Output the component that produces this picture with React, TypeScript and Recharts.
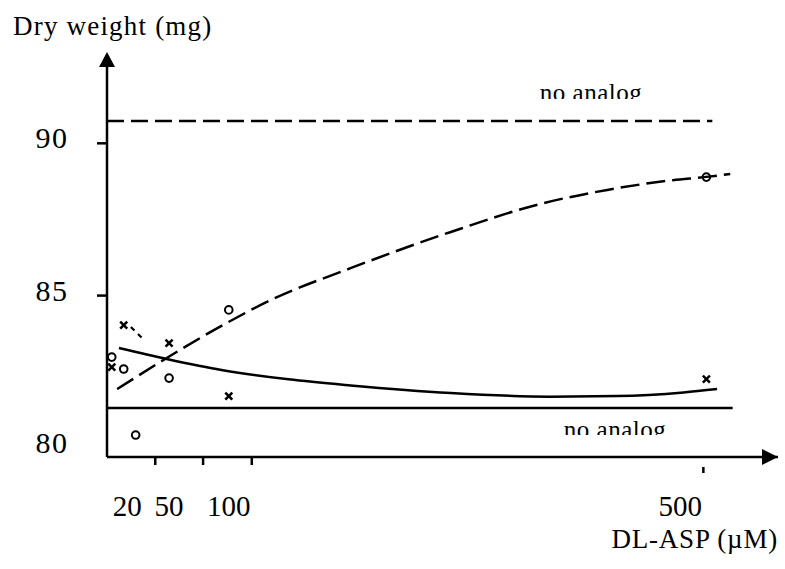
import React from 'react';
import { ComposedChart, Line, Scatter, XAxis, YAxis, ReferenceDot } from 'recharts';

// axis ticks
const xTicks = [20, 50, 100, 500];
const yTicks = [80, 85, 90];

// fitted curves (DL-ASP in µM, dry weight in mg)
const dashedCurveX = [6.5, 48, 95, 135, 202, 286, 361, 417, 472, 498, 520];
const dashedCurveY = [81.93, 82.95, 84.03, 84.85, 85.9, 87.09, 88.01, 88.47, 88.79, 88.89, 88.99];
const solidCurveX = [8, 48, 95, 150, 202, 286, 369, 425, 481, 509];
const solidCurveY = [83.28, 82.92, 82.55, 82.25, 82.05, 81.8, 81.68, 81.7, 81.82, 81.93];

// measured points
const circleX = [2, 12, 22, 50, 100, 500];
const circleY = [82.98, 82.59, 80.42, 82.29, 84.53, 88.89];
const crossX = [2, 12, 50, 100, 500];
const crossY = [82.65, 84.03, 83.44, 81.7, 82.26];

// "no analog" levels
const topAnalogX = [-2, 505];
const topAnalogLevel = 90.73;
const bottomAnalogX = [-2, 522];
const bottomAnalogLevel = 81.31;

// short broken stroke next to the first cross
const fragmentX = [18, 27.5];
const fragmentY = [83.97, 83.6];

const X_DOMAIN: [number, number] = [-2, 560];
const Y_DOMAIN: [number, number] = [79.7, 92.9];

const zip = (xs: number[], ys: number[]) => xs.map((x, i) => ({ x, y: ys[i] }));
const flat = (xs: number[], level: number) => xs.map((x) => ({ x, y: level }));

const dashedCurve = zip(dashedCurveX, dashedCurveY);
const solidCurve = zip(solidCurveX, solidCurveY);
const circles = zip(circleX, circleY);
const crosses = zip(crossX, crossY);
const topAnalog = flat(topAnalogX, topAnalogLevel);
const bottomAnalog = flat(bottomAnalogX, bottomAnalogLevel);
const fragment = zip(fragmentX, fragmentY);

const FONT = '"Liberation Serif", "Times New Roman", serif';

// the printed figure has its x tick marks and labels slightly off the values
const markShift: Record<number, number> = { 20: 22, 50: 34, 100: 23, 500: -3 };
const labelShift: Record<number, number> = { 20: -6, 500: -26 };

const XTick = ({ x, y, payload }: any) => {
  const v = payload.value;
  const mx = x + (markShift[v] ?? 0);
  const far = v === 500;
  return (
    <g>
      <line x1={mx} x2={mx} y1={y + (far ? 10 : 1)} y2={y + (far ? 16 : 8)} stroke="#000" strokeWidth={2.5} />
      <text x={x + (labelShift[v] ?? 0)} y={y + 59} textAnchor="middle" fontFamily={FONT} fontSize={29} fill="#000">
        {v}
      </text>
    </g>
  );
};

const YTick = ({ x, y, payload }: any) => {
  const v = payload.value;
  return (
    <g>
      {v !== 80 && <line x1={x - 10} x2={x} y1={y} y2={y} stroke="#000" strokeWidth={2.5} />}
      <text x={52} y={y + 5} textAnchor="middle" fontFamily={FONT} fontSize={30} letterSpacing={1.5} fill="#000">
        {v}
      </text>
    </g>
  );
};

const Cross = ({ cx, cy }: any) => (
  <g stroke="#000" strokeWidth={2.5}>
    <line x1={cx - 3.5} y1={cy - 3.5} x2={cx + 3.5} y2={cy + 3.5} />
    <line x1={cx - 3.5} y1={cy + 3.5} x2={cx + 3.5} y2={cy - 3.5} />
  </g>
);

const Ring = ({ cx, cy }: any) => <circle cx={cx} cy={cy} r={3.8} fill="none" stroke="#000" strokeWidth={2} />;

const UpArrow = ({ cx, cy }: any) => <path d={`M${cx},${cy - 3} L${cx - 8},${cy + 12} L${cx + 8},${cy + 12} Z`} fill="#000" />;
const RightArrow = ({ cx, cy }: any) => <path d={`M${cx},${cy} L${cx - 16},${cy - 8} L${cx - 16},${cy + 8} Z`} fill="#000" />;

export default function App() {
  return (
    <div style={{ position: 'absolute', left: 0, top: 0, width: 785, height: 569, background: '#fff' }}>
      <ComposedChart width={785} height={569} margin={{ top: 55, right: 7, bottom: 82, left: 47 }}>
        <XAxis
          type="number"
          dataKey="x"
          domain={X_DOMAIN}
          allowDataOverflow
          ticks={xTicks}
          interval={0}
          height={30}
          tickLine={false}
          tickSize={0}
          tickMargin={0}
          axisLine={{ stroke: '#000', strokeWidth: 2.5 }}
          tick={<XTick />}
        />
        <YAxis
          type="number"
          dataKey="y"
          domain={Y_DOMAIN}
          allowDataOverflow
          ticks={yTicks}
          interval={0}
          width={60}
          tickLine={false}
          tickSize={0}
          tickMargin={0}
          axisLine={{ stroke: '#000', strokeWidth: 2.5 }}
          tick={<YTick />}
        />
        <Line data={topAnalog} dataKey="y" type="linear" stroke="#000" strokeWidth={2.5} strokeDasharray="17 7" dot={false} activeDot={false} isAnimationActive={false} />
        <Line data={bottomAnalog} dataKey="y" type="linear" stroke="#000" strokeWidth={2.5} dot={false} activeDot={false} isAnimationActive={false} />
        <Line data={dashedCurve} dataKey="y" type="monotone" stroke="#000" strokeWidth={2.5} strokeDasharray="19 7" dot={false} activeDot={false} isAnimationActive={false} />
        <Line data={solidCurve} dataKey="y" type="monotone" stroke="#000" strokeWidth={2.5} dot={false} activeDot={false} isAnimationActive={false} />
        <Line data={fragment} dataKey="y" type="linear" stroke="#000" strokeWidth={2.2} strokeDasharray="5 5" dot={false} activeDot={false} isAnimationActive={false} />
        <Scatter data={circles} dataKey="y" shape={<Ring />} isAnimationActive={false} />
        <Scatter data={crosses} dataKey="y" shape={<Cross />} isAnimationActive={false} />
        <ReferenceDot x={X_DOMAIN[0]} y={Y_DOMAIN[1]} ifOverflow="visible" shape={<UpArrow />} />
        <ReferenceDot x={X_DOMAIN[1]} y={Y_DOMAIN[0]} ifOverflow="visible" shape={<RightArrow />} />
      </ComposedChart>
      <svg width={785} height={569} style={{ position: 'absolute', left: 0, top: 0, pointerEvents: 'none' }}>
        <defs>
          <clipPath id="clipTop">
            <rect x={480} y={60} width={240} height={39} />
          </clipPath>
          <clipPath id="clipBottom">
            <rect x={500} y={410} width={240} height={25} />
          </clipPath>
        </defs>
        <text x={13} y={35} fontFamily={FONT} fontSize={27} letterSpacing={1.2} fill="#000">
          Dry weight (mg)
        </text>
        <text x={778} y={548} textAnchor="end" fontFamily={FONT} fontSize={27} letterSpacing={0.8} fill="#000">
          DL-ASP (µM)
        </text>
        <text x={591} y={101} textAnchor="middle" fontFamily={FONT} fontSize={25} letterSpacing={0.5} fill="#000" clipPath="url(#clipTop)">
          no analog
        </text>
        <text x={615} y={438} textAnchor="middle" fontFamily={FONT} fontSize={25} letterSpacing={0.5} fill="#000" clipPath="url(#clipBottom)">
          no analog
        </text>
      </svg>
    </div>
  );
}
